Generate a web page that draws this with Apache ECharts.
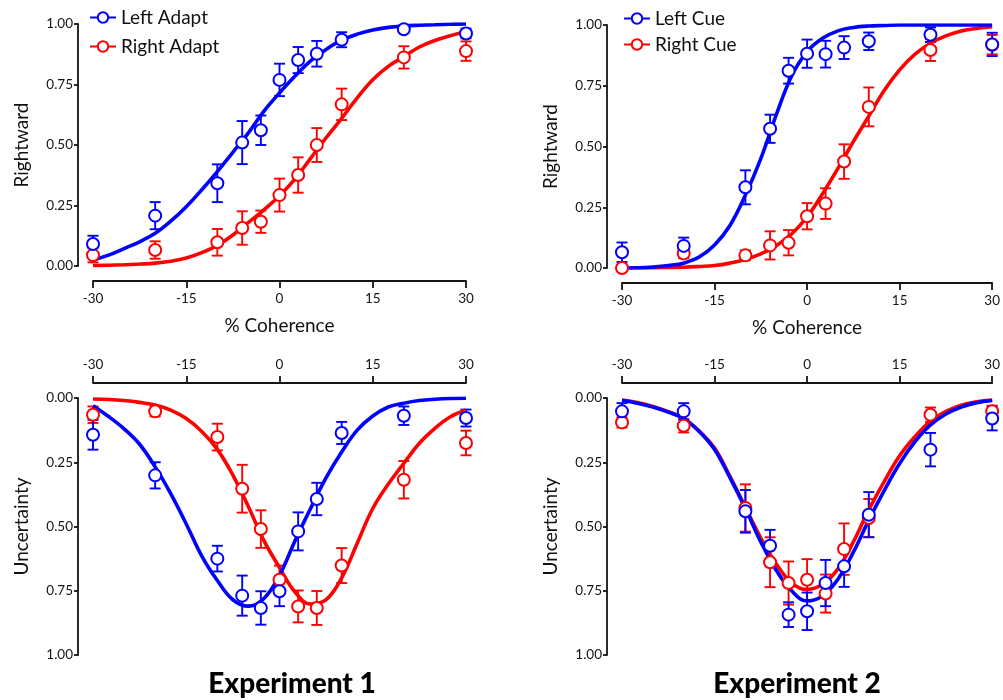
<!DOCTYPE html>
<html>
<head>
<meta charset="utf-8">
<script src="https://cdn.jsdelivr.net/npm/echarts@6/dist/echarts.min.js"></script>
<style>
  html, body { margin: 0; padding: 0; background: #fff; }
  #chart { width: 1003px; height: 700px; }
</style>
</head>
<body>
<div id="chart"></div>
<script>
// coherence levels tested (same in both experiments)
const coh = [-30, -20, -10, -6, -3, 0, 3, 6, 10, 20, 30];
const fitX = [-30, -27.5, -25, -22.5, -20, -17.5, -15, -12.5, -10, -7.5, -5, -2.5, 0,
              2.5, 5, 7.5, 10, 12.5, 15, 17.5, 20, 22.5, 25, 27.5, 30];
const xTicks = [-30, -15, 0, 15, 30];
const yTicks = [0, 0.25, 0.5, 0.75, 1];

// Experiment 1 - proportion rightward
const e1LeftAdapt = [0.091, 0.208, 0.342, 0.510, 0.561, 0.769, 0.851, 0.877, 0.935, 0.978, 0.961];
const e1LeftAdaptErr = [0.034, 0.056, 0.078, 0.089, 0.061, 0.067, 0.054, 0.053, 0.031, 0.012, 0.020];
const e1RightAdapt = [0.045, 0.066, 0.098, 0.157, 0.183, 0.293, 0.376, 0.500, 0.668, 0.862, 0.888];
const e1RightAdaptErr = [0.030, 0.036, 0.055, 0.069, 0.046, 0.068, 0.073, 0.070, 0.065, 0.046, 0.040];
const e1LeftAdaptFit = [0.025, 0.045, 0.072, 0.100, 0.135, 0.185, 0.245, 0.315, 0.390, 0.470, 0.550, 0.640, 0.715,
                        0.785, 0.848, 0.895, 0.933, 0.958, 0.975, 0.986, 0.992, 0.995, 0.997, 0.999, 1.000];
const e1RightAdaptFit = [0.002, 0.003, 0.005, 0.008, 0.012, 0.020, 0.033, 0.055, 0.085, 0.128, 0.180, 0.232, 0.290,
                         0.360, 0.445, 0.530, 0.610, 0.695, 0.770, 0.825, 0.865, 0.905, 0.932, 0.952, 0.968];

// Experiment 2 - proportion rightward
const e2LeftCue = [0.065, 0.091, 0.332, 0.573, 0.812, 0.882, 0.880, 0.907, 0.933, 0.960, 0.920];
const e2LeftCueErr = [0.040, 0.034, 0.070, 0.058, 0.053, 0.058, 0.055, 0.047, 0.036, 0.030, 0.048];
const e2RightCue = [0.000, 0.060, 0.052, 0.093, 0.104, 0.213, 0.265, 0.438, 0.663, 0.897, 0.919];
const e2RightCueErr = [0.005, 0.020, 0.020, 0.058, 0.052, 0.054, 0.063, 0.071, 0.080, 0.045, 0.040];
const e2LeftCueFit = [0.000, 0.001, 0.004, 0.010, 0.020, 0.045, 0.095, 0.175, 0.300, 0.450, 0.630, 0.790, 0.890,
                      0.945, 0.976, 0.990, 0.996, 0.998, 1.000, 1.000, 1.000, 1.000, 1.000, 1.000, 1.000];
const e2RightCueFit = [0.000, 0.000, 0.001, 0.002, 0.003, 0.006, 0.010, 0.020, 0.035, 0.058, 0.092, 0.140, 0.210,
                       0.305, 0.410, 0.520, 0.625, 0.730, 0.815, 0.880, 0.925, 0.955, 0.975, 0.986, 0.993];

// Experiment 1 - uncertainty
const e1LeftAdaptUnc = [0.143, 0.301, 0.625, 0.769, 0.817, 0.752, 0.519, 0.393, 0.136, 0.069, 0.078];
const e1LeftAdaptUncErr = [0.058, 0.051, 0.050, 0.078, 0.065, 0.058, 0.074, 0.063, 0.043, 0.036, 0.033];
const e1RightAdaptUnc = [0.065, 0.052, 0.152, 0.353, 0.510, 0.707, 0.811, 0.817, 0.652, 0.318, 0.175];
const e1RightAdaptUncErr = [0.032, 0.020, 0.052, 0.093, 0.073, 0.055, 0.062, 0.066, 0.068, 0.073, 0.048];
const e1LeftAdaptUncFit = [0.030, 0.072, 0.120, 0.180, 0.268, 0.372, 0.490, 0.615, 0.710, 0.785, 0.810, 0.780, 0.690,
                           0.555, 0.430, 0.310, 0.210, 0.125, 0.070, 0.035, 0.020, 0.010, 0.005, 0.002, 0.001];
const e1RightAdaptUncFit = [0.004, 0.006, 0.010, 0.017, 0.027, 0.047, 0.080, 0.130, 0.200, 0.300, 0.423, 0.555, 0.660,
                            0.755, 0.802, 0.785, 0.700, 0.565, 0.430, 0.335, 0.254, 0.176, 0.118, 0.073, 0.047];

// Experiment 2 - uncertainty
const e2LeftCueUnc = [0.052, 0.052, 0.441, 0.575, 0.843, 0.830, 0.720, 0.655, 0.454, 0.201, 0.080];
const e2LeftCueUncErr = [0.032, 0.032, 0.083, 0.062, 0.048, 0.073, 0.090, 0.080, 0.088, 0.065, 0.046];
const e2RightCueUnc = [0.095, 0.108, 0.428, 0.639, 0.720, 0.707, 0.761, 0.588, 0.467, 0.065, 0.052];
const e2RightCueUncErr = [0.020, 0.026, 0.092, 0.097, 0.084, 0.080, 0.074, 0.100, 0.074, 0.028, 0.022];
const e2LeftCueUncFit = [0.010, 0.020, 0.035, 0.055, 0.080, 0.130, 0.200, 0.310, 0.430, 0.560, 0.670, 0.750, 0.790,
                         0.770, 0.705, 0.600, 0.475, 0.360, 0.255, 0.170, 0.105, 0.062, 0.035, 0.018, 0.010];
const e2RightCueUncFit = [0.008, 0.018, 0.033, 0.053, 0.080, 0.128, 0.195, 0.305, 0.425, 0.545, 0.645, 0.720, 0.745,
                          0.725, 0.665, 0.560, 0.435, 0.325, 0.225, 0.150, 0.090, 0.052, 0.028, 0.015, 0.008];

const BLUE = '#0000ff';
const RED = '#ff0000';
const INK = '#141414';
const FONT = 'Lato';

const grids = [
  { left: 93, top: 24, width: 373, height: 242 },
  { left: 622, top: 25, width: 372, height: 243 },
  { left: 93, top: 398, width: 373, height: 257 },
  { left: 622, top: 398, width: 372, height: 257 }
];

function xAxis(idx, pos, name) {
  return {
    type: 'value', gridIndex: idx, position: pos, offset: 15,
    min: xTicks[0], max: xTicks[xTicks.length - 1], interval: 15,
    axisLine: { show: true, onZero: false, lineStyle: { color: INK, width: 1.8 } },
    axisTick: { show: true, length: 7, lineStyle: { color: INK, width: 1.8 } },
    axisLabel: { color: INK, fontSize: 13.5, fontFamily: FONT, margin: 11 },
    splitLine: { show: false },
    name: name, nameLocation: 'middle', nameGap: 35,
    nameTextStyle: { color: '#111', fontSize: 19, fontFamily: FONT }
  };
}

function yAxis(idx, name, inverse) {
  return {
    type: 'value', gridIndex: idx, offset: 15, inverse: inverse,
    min: yTicks[0], max: yTicks[yTicks.length - 1], interval: 0.25,
    axisLine: { show: true, onZero: false, lineStyle: { color: INK, width: 1.8 } },
    axisTick: { show: true, length: 4, lineStyle: { color: INK, width: 1.8 } },
    axisLabel: { color: INK, fontSize: 13.5, fontFamily: FONT, margin: 5,
                 formatter: v => v.toFixed(2) },
    splitLine: { show: false },
    name: name, nameLocation: 'middle', nameGap: 47,
    nameTextStyle: { color: '#111', fontSize: 19, fontFamily: FONT }
  };
}

function errBars(idx, ys, errs, color) {
  return {
    type: 'custom', xAxisIndex: idx, yAxisIndex: idx, z: 2, silent: true,
    data: coh.map((x, i) => [x, ys[i] - errs[i], ys[i] + errs[i]]),
    encode: { x: 0, y: [1, 2] },
    renderItem: function (params, api) {
      const lo = api.coord([api.value(0), api.value(1)]);
      const hi = api.coord([api.value(0), api.value(2)]);
      const w = 5.5;
      const st = { stroke: color, lineWidth: 1.9 };
      return {
        type: 'group', children: [
          { type: 'line', shape: { x1: lo[0], y1: lo[1], x2: hi[0], y2: hi[1] }, style: st },
          { type: 'line', shape: { x1: lo[0] - w, y1: lo[1], x2: lo[0] + w, y2: lo[1] }, style: st },
          { type: 'line', shape: { x1: hi[0] - w, y1: hi[1], x2: hi[0] + w, y2: hi[1] }, style: st }
        ]
      };
    }
  };
}

function fitLine(idx, name, ys, color) {
  return {
    type: 'line', name: name, xAxisIndex: idx, yAxisIndex: idx, z: 3,
    data: fitX.map((x, i) => [x, ys[i]]),
    smooth: 0.4, showSymbol: false, symbol: 'emptyCircle', symbolSize: 12,
    lineStyle: { color: color, width: 3.6 },
    itemStyle: { color: color, borderWidth: 2.2 },
    silent: true
  };
}

function points(idx, ys, color) {
  return {
    type: 'scatter', xAxisIndex: idx, yAxisIndex: idx, z: 4,
    data: coh.map((x, i) => [x, ys[i]]),
    symbol: 'emptyCircle', symbolSize: 12,
    itemStyle: { color: color, borderWidth: 2.2, opacity: 1 },
    silent: true
  };
}

function panel(idx, names, redY, redE, redFit, blueY, blueE, blueFit) {
  return [
    errBars(idx, redY, redE, RED),
    errBars(idx, blueY, blueE, BLUE),
    fitLine(idx, names[1], redFit, RED),
    fitLine(idx, names[0], blueFit, BLUE),
    points(idx, redY, RED),
    points(idx, blueY, BLUE)
  ];
}

const legendText = { fontSize: 19, fontFamily: FONT, color: '#111' };

const option = {
  animation: false,
  backgroundColor: '#fff',
  grid: grids,
  xAxis: [
    xAxis(0, 'bottom', '% Coherence'),
    xAxis(1, 'bottom', '% Coherence'),
    xAxis(2, 'top', ''),
    xAxis(3, 'top', '')
  ],
  yAxis: [
    yAxis(0, 'Rightward', false),
    yAxis(1, 'Rightward', false),
    yAxis(2, 'Uncertainty', true),
    yAxis(3, 'Uncertainty', true)
  ],
  legend: [
    { data: ['Left Adapt', 'Right Adapt'], orient: 'vertical', left: 84, top: 3,
      itemWidth: 26, itemHeight: 13, itemGap: 10, textStyle: legendText, selectedMode: false },
    { data: ['Left Cue', 'Right Cue'], orient: 'vertical', left: 618, top: 4,
      itemWidth: 26, itemHeight: 13, itemGap: 7, textStyle: legendText, selectedMode: false }
  ],
  graphic: [
    { type: 'text', x: 292, y: 684,
      style: { text: 'Experiment 1', font: '900 28px Lato', fill: '#000', align: 'center', verticalAlign: 'middle' } },
    { type: 'text', x: 797, y: 684,
      style: { text: 'Experiment 2', font: '900 28px Lato', fill: '#000', align: 'center', verticalAlign: 'middle' } }
  ],
  series: [].concat(
    panel(0, ['Left Adapt', 'Right Adapt'], e1RightAdapt, e1RightAdaptErr, e1RightAdaptFit,
          e1LeftAdapt, e1LeftAdaptErr, e1LeftAdaptFit),
    panel(1, ['Left Cue', 'Right Cue'], e2RightCue, e2RightCueErr, e2RightCueFit,
          e2LeftCue, e2LeftCueErr, e2LeftCueFit),
    panel(2, ['Left Adapt', 'Right Adapt'], e1RightAdaptUnc, e1RightAdaptUncErr, e1RightAdaptUncFit,
          e1LeftAdaptUnc, e1LeftAdaptUncErr, e1LeftAdaptUncFit),
    panel(3, ['Left Cue', 'Right Cue'], e2RightCueUnc, e2RightCueUncErr, e2RightCueUncFit,
          e2LeftCueUnc, e2LeftCueUncErr, e2LeftCueUncFit)
  )
};

const chart = echarts.init(document.getElementById('chart'), null, { renderer: 'canvas' });
chart.setOption(option);
</script>
</body>
</html>
